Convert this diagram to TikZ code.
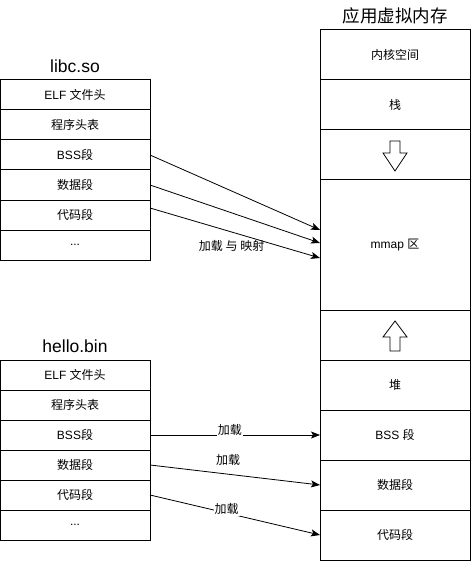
\documentclass[tikz,border=0pt]{standalone}
\usepackage{fontspec}
\setmainfont{Liberation Sans}
\newfontfamily\cjk{Noto Sans CJK SC}
\usetikzlibrary{positioning,calc,arrows.meta}

\begin{document}
\begin{tikzpicture}[x=1pt,y=-1pt,
  row/.style={draw,line width=1pt,minimum width=150pt,minimum height=30pt,inner sep=0pt,outer sep=0pt,font=\fontsize{12}{14}\selectfont},
  cell/.style={row,minimum height=50pt},
  title/.style={font=\fontsize{17.5}{20}\selectfont},
  load/.style={-{Stealth[length=9pt,width=7pt,inset=2pt]},line width=0.8pt},
  tag/.style={font=\fontsize{12}{14}\selectfont,inner sep=1pt}]
\useasboundingbox (0,0) rectangle (471,561);

% libc.so
\node [title] (libc) at (75,66) {libc.so};
\node [row] (lelf) at (75,95) {ELF {\cjk 文件头}};
\node [row,below=0pt of lelf] (lphdr) {{\cjk 程序头表}};
\node [row,below=0pt of lphdr] (lbss) {BSS{\cjk 段}};
\node [row,below=0pt of lbss] (ldata) {{\cjk 数据段}};
\node [row,below=0pt of ldata] (lcode) {{\cjk 代码段}};
\node [row,below=0pt of lcode] (lmore) {...};

% hello.bin
\node [title] (hello) at (75,346) {hello.bin};
\node [row] (helf) at (75,375) {ELF {\cjk 文件头}};
\node [row,below=0pt of helf] (hphdr) {{\cjk 程序头表}};
\node [row,below=0pt of hphdr] (hbss) {BSS{\cjk 段}};
\node [row,below=0pt of hbss] (hdata) {{\cjk 数据段}};
\node [row,below=0pt of hdata] (hcode) {{\cjk 代码段}};
\node [row,below=0pt of hcode] (hmore) {...};

% virtual memory
\node [title] (vm) at (395,16) {\cjk 应用虚拟内存};
\node [cell] (kern) at (395,55) {{\cjk 内核空间}};
\node [cell,below=0pt of kern] (stack) {{\cjk 栈}};
\node [cell,below=0pt of stack] (down) {};
\node [cell,minimum height=130pt,below=0pt of down] (mmap) {mmap {\cjk 区}};
\node [cell,below=0pt of mmap] (up) {};
\node [cell,below=0pt of up] (heap) {{\cjk 堆}};
\node [cell,below=0pt of heap] (bss) {BSS {\cjk 段}};
\node [cell,below=0pt of bss] (data) {{\cjk 数据段}};
\node [cell,below=0pt of data] (code) {{\cjk 代码段}};

\draw [line width=0.8pt,shift={(down.center)}] (-5,-14) -- (5,-14) -- (5,-2) -- (12,-2) -- (0,16) -- (-12,-2) -- (-5,-2) -- cycle;
\draw [line width=0.8pt,shift={(up.center)}] (0,-14) -- (12,2) -- (5,2) -- (5,16) -- (-5,16) -- (-5,2) -- (-12,2) -- cycle;

\draw [load] (lbss.east) -- ($(mmap.west)+(0,-15)$);
\draw [load] (ldata.east) -- ($(mmap.west)+(0,-2)$);
\draw [load] ($(lcode.east)+(0,-7)$) -- ($(mmap.west)+(0,13)$)
  node [tag,pos=0.48,yshift=-14pt] (maptag) {{\cjk 加载 与 映射}};

\draw [load] (hbss.east) -- (bss.west) node [tag,fill=white,pos=0.47,yshift=5pt] (bsstag) {\cjk 加载};
\draw [load] (hdata.east) -- (data.west) node [tag,pos=0.46,yshift=14pt] (datatag) {\cjk 加载};
\draw [load] (hcode.east) -- (code.west) node [tag,fill=white,pos=0.45,yshift=4pt] (codetag) {\cjk 加载};
\end{tikzpicture}
\end{document}
